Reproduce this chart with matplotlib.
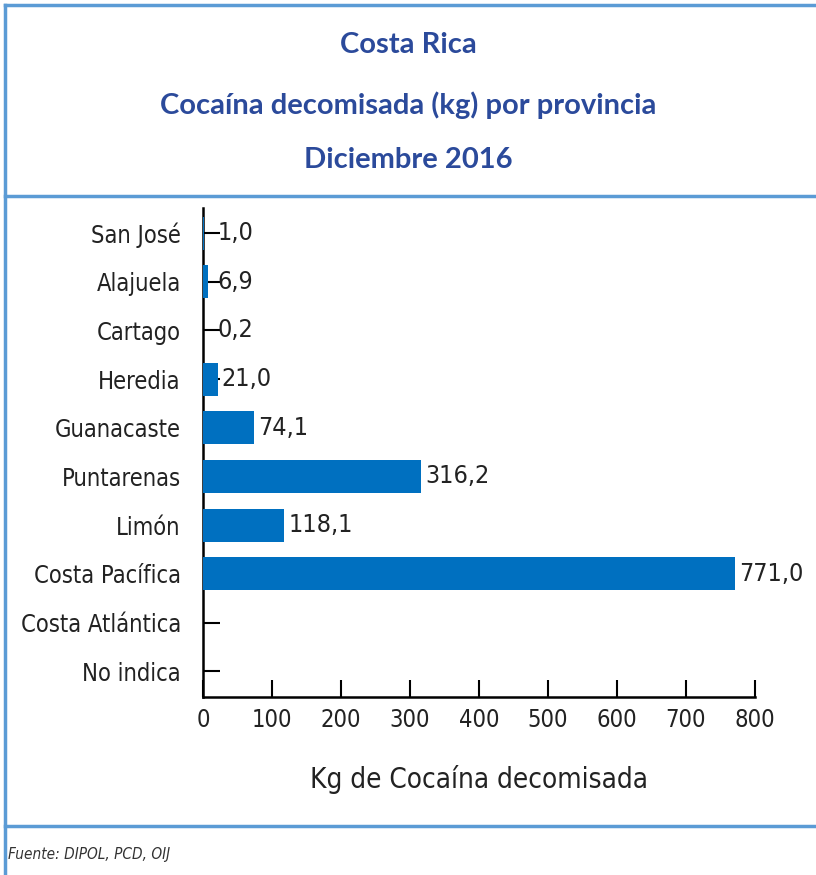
import matplotlib.pyplot as plt
from matplotlib.lines import Line2D

provincias = ['San José', 'Alajuela', 'Cartago', 'Heredia', 'Guanacaste',
              'Puntarenas', 'Limón', 'Costa Pacífica', 'Costa Atlántica', 'No indica']
kg = [1.0, 6.9, 0.2, 21.0, 74.1, 316.2, 118.1, 771.0, None, None]
xticks = [0, 100, 200, 300, 400, 500, 600, 700, 800]

narrow = dict(family='DejaVu Sans', stretch='condensed')
blue_bar = '#0070c0'
blue_title = '#2b4a9b'
blue_line = '#5b9bd5'

fig = plt.figure(figsize=(8.16, 8.75), dpi=100)
ax = fig.add_axes([0.2488, 0.2034, 0.925 - 0.2488, 0.762 - 0.2034])

ypos = list(range(len(provincias)))
vals = [v if v is not None else 0 for v in kg]
ax.barh(ypos, vals, height=0.68, color=blue_bar, zorder=2)
for y, v in zip(ypos, kg):
    if v is None:
        continue
    # small bars: put the label past the inward tick mark
    ax.annotate(f'{v:.1f}'.replace('.', ','), (max(v, 15), y), xytext=(3, 0),
                textcoords='offset points', va='center', ha='left',
                fontsize=18, color='#222222', **narrow)

ax.set_ylim(9.53, -0.51)
ax.set_xlim(0, 800)
ax.set_yticks(ypos)
ax.set_yticklabels(provincias, fontsize=17, color='#222222', **narrow)
ax.set_xticks(xticks)
ax.set_xticklabels([str(t) for t in xticks], fontsize=17, color='#222222', **narrow)
ax.tick_params(axis='y', direction='in', length=12, width=1.5, pad=16, zorder=3)
ax.tick_params(axis='x', direction='in', length=12, width=1.5, pad=8)
for s in ['top', 'right']:
    ax.spines[s].set_visible(False)
for s in ['left', 'bottom']:
    ax.spines[s].set_linewidth(1.8)
    ax.spines[s].set_zorder(1)
ax.set_xlabel('Kg de Cocaína decomisada', fontsize=20,
              color='#222222', labelpad=24, **narrow)

# title block
for yy, txt in [(45, 'Costa Rica'), (105, 'Cocaína decomisada (kg) por provincia'),
                (160, 'Diciembre 2016')]:
    fig.text(0.5, 1 - yy / 875, txt, ha='center', va='center',
             fontsize=21, weight='bold', family='Lato', color=blue_title)

# frame lines
for y in [5, 196, 826]:
    fig.add_artist(Line2D([5 / 816, 1], [1 - y / 875] * 2, color=blue_line, lw=2.5))
fig.add_artist(Line2D([5 / 816] * 2, [1 - 5 / 875, 0], color=blue_line, lw=2.5))

fig.text(8 / 816, 1 - 855 / 875, 'Fuente: DIPOL, PCD, OIJ', ha='left', va='center',
         fontsize=11, style='italic', color='#333333', **narrow)

fig.savefig('out.png', dpi=100)
